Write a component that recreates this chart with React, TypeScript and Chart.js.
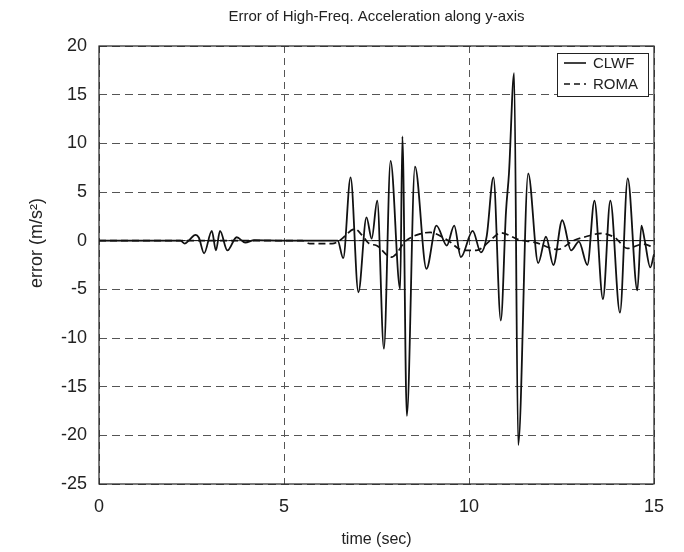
import React, { useEffect, useRef } from 'react';
import { Chart, registerables } from 'chart.js';

Chart.register(...registerables);

const TITLE = 'Error of High-Freq. Acceleration along y-axis';
const X_TITLE = 'time (sec)';
const Y_TITLE = 'error (m/s²)';
const SERIES_NAMES = ['CLWF', 'ROMA'];
const X_RANGE = [0, 15];
const Y_RANGE = [-25, 20];
const X_STEP = 5;
const Y_STEP = 5;

const CLWF_T = [
  0, 1.0, 2.2, 2.32, 2.45, 2.6, 2.7, 2.84, 3.05, 3.16, 3.27, 3.47, 3.72, 3.95, 4.2, 5.0, 6.0, 6.45,
  6.6, 6.8, 7.01, 7.23, 7.37, 7.52, 7.7, 7.88, 8.14, 8.2, 8.32, 8.54, 8.85, 9.12, 9.4, 9.6, 9.78,
  10.1, 10.32, 10.48, 10.66, 10.86, 11.0, 11.08, 11.22, 11.33, 11.6, 11.87, 12.08, 12.28, 12.52,
  12.76, 12.97, 13.2, 13.39, 13.62, 13.82, 14.08, 14.29, 14.55, 14.66, 14.75, 14.9, 15.0,
];
const CLWF_V = [
  0, 0, 0, -0.3, 0.1, 0.6, 0.3, -1.3, 1.0, -1.0, 1.0, -1.0, 0.35, -0.2, 0.05, 0, 0, 0,
  -1.8, 6.5, -5.3, 2.4, 0.2, 4.1, -11.1, 8.2, -5.0, 10.7, -18, 7.6, -2.9, 1.55, -0.5, 1.55, -1.7,
  1.0, -1.2, 0.5, 6.5, -8.2, 3.0, 6.9, 17.2, -21, 6.9, -2.3, 0.4, -2.5, 2.1,
  -1.0, -0.1, -2.5, 4.1, -6.0, 4.1, -7.4, 6.4, -5.1, 1.55, 0.0, -2.75, -1.4,
];

const ROMA_T = [
  0, 5.5, 5.7, 6.3, 6.5, 6.92, 7.1, 7.3, 7.5, 7.9, 8.3, 8.68, 8.95, 9.4, 9.85, 10.2, 10.57, 10.85,
  11.35, 11.8, 12.4, 12.82, 13.15, 13.58, 13.95, 14.28, 14.7, 15.0,
];
const ROMA_V = [
  0, 0, -0.3, -0.3, 0, 1.2, 0.6, -0.3, -0.5, -1.7, 0, 0.7, 0.85, 0.1, -1.0, -1.0, 0, 0.8,
  0.1, -0.2, -0.9, 0, 0.4, 0.75, 0.3, -0.8, -0.35, -0.7,
];

const FONT = "'Liberation Sans', Arial, sans-serif";

const framePlugin = {
  id: 'framePlugin',
  beforeDatasetsDraw(chart: any) {
    const { ctx, chartArea, scales } = chart;
    const y0 = scales.y.getPixelForValue(0);
    ctx.save();
    ctx.strokeStyle = '#000';
    ctx.lineWidth = 0.8;
    ctx.beginPath();
    ctx.moveTo(chartArea.left, y0);
    ctx.lineTo(chartArea.right, y0);
    ctx.stroke();
    ctx.restore();
  },
  afterDatasetsDraw(chart: any) {
    const { ctx, chartArea } = chart;
    ctx.save();
    ctx.strokeStyle = '#222';
    ctx.lineWidth = 1.2;
    ctx.strokeRect(chartArea.left, chartArea.top, chartArea.right - chartArea.left, chartArea.bottom - chartArea.top);

    // legend box
    const w = 91;
    const h = 43;
    const bx = chartArea.right - 6 - w;
    const by = chartArea.top + 7;
    ctx.fillStyle = '#fff';
    ctx.fillRect(bx, by, w, h);
    ctx.strokeStyle = '#222';
    ctx.lineWidth = 1;
    ctx.strokeRect(bx + 0.5, by + 0.5, w, h);
    const rows = [by + 10, by + 31];
    const dashes = [[], [6, 4]];
    ctx.font = `15px ${FONT}`;
    ctx.textBaseline = 'middle';
    ctx.textAlign = 'left';
    for (let i = 0; i < 2; i++) {
      ctx.beginPath();
      ctx.setLineDash(dashes[i]);
      ctx.lineWidth = 1.6;
      ctx.strokeStyle = '#111';
      ctx.moveTo(bx + 7, rows[i]);
      ctx.lineTo(bx + 29, rows[i]);
      ctx.stroke();
      ctx.setLineDash([]);
      ctx.fillStyle = '#222';
      ctx.fillText(SERIES_NAMES[i], bx + 36, rows[i] + 1);
    }

    // y-axis title
    ctx.translate(37, 243);
    ctx.rotate(-Math.PI / 2);
    ctx.font = `18px ${FONT}`;
    ctx.textAlign = 'center';
    ctx.textBaseline = 'middle';
    ctx.fillStyle = '#222';
    ctx.fillText(Y_TITLE, 0, 0);
    ctx.restore();
  },
};

export default function App() {
  const ref = useRef<HTMLCanvasElement | null>(null);
  useEffect(() => {
    document.body.style.margin = '0';
    const canvas = ref.current;
    if (!canvas) return;
    const clwf = CLWF_T.map((t, i) => ({ x: t, y: CLWF_V[i] }));
    const roma = ROMA_T.map((t, i) => ({ x: t, y: ROMA_V[i] }));
    const chart = new Chart(canvas, {
      type: 'line',
      data: {
        datasets: [
          {
            label: SERIES_NAMES[1],
            data: roma,
            borderColor: '#111',
            borderWidth: 1.7,
            borderDash: [7, 4],
            pointRadius: 0,
            cubicInterpolationMode: 'monotone',
            fill: false,
          },
          {
            label: SERIES_NAMES[0],
            data: clwf,
            borderColor: '#111',
            borderWidth: 1.8,
            pointRadius: 0,
            cubicInterpolationMode: 'monotone',
            fill: false,
          },
        ],
      },
      options: {
        animation: false,
        responsive: false,
        maintainAspectRatio: false,
        layout: { padding: { top: 0, left: 0, right: 30, bottom: 0 } },
        plugins: {
          legend: { display: false },
          tooltip: { enabled: false },
          title: {
            display: true,
            text: TITLE,
            fullSize: false,
            color: '#222',
            font: { family: FONT, size: 15, weight: 'normal' },
            padding: { top: 8, bottom: 20 },
          },
        },
        scales: {
          x: {
            type: 'linear',
            min: X_RANGE[0],
            max: X_RANGE[1],
            afterFit(scale: any) {
              scale.height = 68;
            },
            afterBuildTicks(scale: any) {
              const ticks = [];
              for (let v = X_RANGE[0]; v <= X_RANGE[1]; v += X_STEP) ticks.push({ value: v });
              scale.ticks = ticks;
            },
            ticks: { padding: 12, color: '#222', font: { family: FONT, size: 18 } },
            grid: { color: '#555', lineWidth: 1, drawTicks: false },
            border: { display: false, dash: [7, 5] },
            title: {
              display: true,
              text: X_TITLE,
              color: '#222',
              font: { family: FONT, size: 16 },
              padding: { top: 0, bottom: 3 },
            },
          },
          y: {
            type: 'linear',
            min: Y_RANGE[0],
            max: Y_RANGE[1],
            afterFit(scale: any) {
              scale.width = 99;
            },
            afterBuildTicks(scale: any) {
              const ticks = [];
              for (let v = Y_RANGE[0]; v <= Y_RANGE[1]; v += Y_STEP) ticks.push({ value: v });
              scale.ticks = ticks;
            },
            ticks: { padding: 12, color: '#222', font: { family: FONT, size: 18 } },
            grid: { color: '#555', lineWidth: 1, drawTicks: false },
            border: { display: false, dash: [8, 5] },
            title: { display: false },
          },
        },
      },
      plugins: [framePlugin],
    } as any);
    return () => chart.destroy();
  }, []);
  return (
    <div style={{ width: 684, height: 552 }}>
      <canvas ref={ref} width={684} height={552} style={{ display: 'block' }} />
    </div>
  );
}
